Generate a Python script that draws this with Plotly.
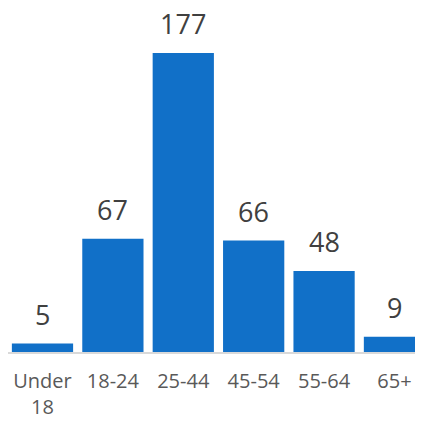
import plotly.graph_objects as go

categories = ["Under<br>18", "18-24", "25-44", "45-54", "55-64", "65+"]
values = [5, 67, 177, 66, 48, 9]

fig = go.Figure(go.Bar(
    x=categories, y=values,
    marker=dict(color="#1170C8", line=dict(width=0)),
    width=0.87,
))

for c, v in zip(categories, values):
    fig.add_annotation(
        x=c, y=v, text=str(v), showarrow=False,
        yanchor="bottom", yshift=9,
        font=dict(family="Open Sans, Liberation Sans, sans-serif", size=27, color="#404040"),
    )

# page body has an 8px default margin at top/left
fig.update_layout(
    width=423, height=415,
    margin=dict(l=0, r=0, t=0, b=71),
    plot_bgcolor="white", paper_bgcolor="white",
    showlegend=False,
    font=dict(family="Open Sans, Liberation Sans, sans-serif"),
)
fig.update_xaxes(
    range=[-0.49, 5.519], automargin=False,
    showline=True, linecolor="#D9D9D9", linewidth=2,
    ticks="outside", ticklen=10, tickcolor="rgba(0,0,0,0)",
    tickfont=dict(size=20, color="#595959"),
    showgrid=False,
)
fig.update_yaxes(range=[0, 203.7], visible=False, showgrid=False, automargin=False)

fig.write_html("out.html")
